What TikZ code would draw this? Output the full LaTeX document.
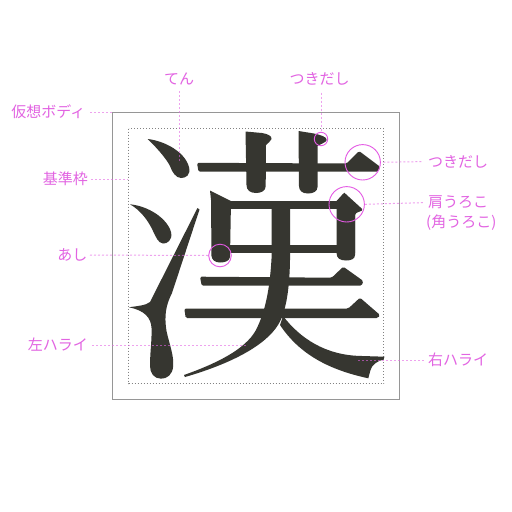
\documentclass[tikz,border=0pt]{standalone}
\usepackage{fontspec}
\newfontfamily\jpfont{Noto Sans CJK JP}
\definecolor{glyph}{RGB}{54,54,48}
\definecolor{pinktext}{RGB}{226,100,226}
\definecolor{pinkring}{RGB}{228,90,228}
\definecolor{leadcol}{RGB}{228,100,228}
\definecolor{boxgray}{RGB}{150,150,150}
\definecolor{dotgray}{RGB}{130,130,130}
\begin{document}
\begin{tikzpicture}[x=1pt,y=-1pt,
  lab/.style={font=\jpfont\fontsize{15}{18}\selectfont, text=pinktext, inner sep=0pt},
  leader/.style={draw=leadcol, opacity=0.6, line width=1pt, dash pattern=on 2pt off 2pt},
  ring/.style={circle, draw=pinkring, line width=0.9pt, inner sep=0pt},
  ink/.style={fill=glyph}]
\useasboundingbox (0,0) rectangle (512,512);
\fill[white] (0,0) rectangle (512,512);
% virtual body and reference frame
\draw[boxgray, line width=1pt] (112.5,112.5) rectangle (399.5,399.5);
\draw[dotgray, line width=0.8pt, dash pattern=on 1pt off 2pt] (128.5,128.5) rectangle (383.5,383.5);
% ---- glyph strokes ----
% dot 1
\fill[ink] (147.7,139) .. controls (165,141) and (185,152) .. (189,167)
  .. controls (191,175) and (186,178) .. (181,178)
  .. controls (176,178) and (172,172) .. (170,166)
  .. controls (166,158) and (155,146) .. (147.7,139) -- cycle;
% dot 2
\fill[ink] (130,204.3) .. controls (148,206) and (167,218) .. (171,232)
  .. controls (173,240) and (167,244) .. (163,243.5)
  .. controls (158,243) and (156,237) .. (153,231)
  .. controls (148,220) and (140,210) .. (130,204.3) -- cycle;
% rising stroke with foot
\fill[ink] (197.5,208) -- (199.5,209.5) -- (172,293)
  .. controls (166,305) and (164,315) .. (166.5,331)
  .. controls (169,343) and (174,355) .. (173.2,366)
  .. controls (172.5,375) and (167,378.7) .. (161,378.7)
  .. controls (154,378.7) and (150,373) .. (150,366)
  .. controls (150,352) and (152,340) .. (151.5,328)
  .. controls (151,318) and (145,310.5) .. (129,307.3)
  .. controls (137,306) and (146,305.5) .. (150,302) -- cycle;
% grass bar with uroko
\fill[ink, rounded corners=1.5pt] (197,162.8) -- (346.7,163.5) -- (359,151) -- (380,166.7) -- (378.5,171.5) -- (198.5,171.7) -- cycle;
% grass left vertical
\fill[ink] (245.5,131.5) -- (262,133) .. controls (268,134) and (272,136) .. (271.5,139)
  .. controls (271,141) and (268,143) .. (266,145) -- (265.7,186)
  .. controls (265.7,191) and (261,193) .. (256,193)
  .. controls (250,193) and (246.5,190) .. (246.5,185) -- cycle;
% grass right vertical
\fill[ink] (298.5,131) -- (314,133.5) .. controls (321,135) and (327,137) .. (326.7,140)
  .. controls (326.5,142) and (321,144) .. (317.5,146) -- (317.5,187)
  .. controls (317.5,191.5) and (313,193.5) .. (308,193.5)
  .. controls (302,193.5) and (299,190.5) .. (299,186) -- cycle;
% box: left vertical (foot)
\fill[ink] (210,190.5) -- (231,201) -- (230,257)
  .. controls (229.5,261) and (225,262.5) .. (220,262.5)
  .. controls (215,262.5) and (212,260) .. (211.5,256) -- (211,200) -- cycle;
% box: top bar and middle bar
\fill[ink] (229,201) rectangle (338,208.5);
\fill[ink] (229,245) rectangle (338,253);
% box: shoulder + right vertical
\fill[ink, rounded corners=1.5pt] (336.7,201) -- (344.3,192.7) -- (363.3,210) -- (355,213.5) -- (355,253);
\fill[ink] (336.7,201) -- (344.3,192.7) -- (355,205) -- (355,255)
  .. controls (355,259) and (351,260.5) .. (346,260.5)
  .. controls (340,260.5) and (336.7,258) .. (336.7,254) -- cycle;
% bar 1
\fill[ink, rounded corners=1.5pt] (200,276.7) -- (331.7,277.7) -- (343.3,266.7) -- (363.3,281) -- (361.7,285.7) -- (201.7,285.7) -- cycle;
% bar 2
\fill[ink, rounded corners=1.5pt] (184.3,308.5) -- (348.3,308.5) -- (360,297.7) -- (380,315) -- (378,318) -- (185.7,318) -- cycle;
% centre vertical + left sweep
\fill[ink] (271.7,201) -- (290,201) -- (290,260)
  .. controls (289.5,290) and (286,312) .. (278,325)
  .. controls (265,346) and (230,364) .. (185,377) -- (184,375)
  .. controls (215,364) and (245,350) .. (256,330)
  .. controls (265,312) and (270,290) .. (271.7,255) -- cycle;
% right sweep
\fill[ink] (283,316) .. controls (300,338) and (325,355.5) .. (362,356) -- (384.5,356.7) -- (383.5,359.5)
  .. controls (377,361) and (372,365) .. (370.5,370) -- (368.3,378.3)
  .. controls (330,370) and (300,355) .. (280,325) -- cycle;
% ---- rings ----
\node[ring, minimum size=13.4pt] (rTop) at (321,139) {};
\node[ring, minimum size=35.4pt] (rRight) at (362.7,162.3) {};
\node[ring, minimum size=35.4pt] (rShoulder) at (346.7,204.3) {};
\node[ring, minimum size=22.6pt] (rFoot) at (220,255.5) {};
% ---- labels ----
\node[lab] (Lten) at (179,79) {てん};
\node[lab] (LtsukiTop) at (319.5,79) {つきだし};
\node[lab, anchor=east] (Lbody) at (85.5,112) {仮想ボディ};
\node[lab, anchor=east] (Lframe) at (88,179) {基準枠};
\node[lab, anchor=east] (Lashi) at (87.5,255) {あし};
\node[lab, anchor=east] (Lhidari) at (88,345) {左ハライ};
\node[lab, anchor=west] (LtsukiRight) at (428,161.5) {つきだし};
\node[lab, anchor=west] (Lkata) at (428,202.5) {肩うろこ};
\node[lab, anchor=west] (Lkado) at (426,223) {(角うろこ)};
\node[lab, anchor=west] (Lmigi) at (428,360) {右ハライ};
% ---- leader ends ----
\coordinate (tenEnd) at (179,163);
\coordinate (bodyEnd) at (112,112);
\coordinate (frameEnd) at (128,179);
\coordinate (hidariEnd) at (246,345);
\coordinate (migiEnd) at (358,360);
% ---- leaders ----
\draw[leader, shorten <=6pt] (Lten.south) -- (tenEnd);
\draw[leader, shorten <=6pt] (321,86.5) -- (rTop.north);
\draw[leader, shorten <=4.5pt] (Lbody.east) -- (bodyEnd);
\draw[leader, shorten <=3pt] (Lframe.east) -- (frameEnd);
\draw[leader, shorten <=2.5pt] (Lashi.east) -- (rFoot.west);
\draw[leader, shorten <=4pt] (Lhidari.east) -- (hidariEnd);
\draw[leader, shorten <=2.5pt, shorten >=5pt] (rRight.east) -- (LtsukiRight.west);
\draw[leader, shorten >=5pt] (rShoulder.east) -- (Lkata.west);
\draw[leader, shorten >=4pt] (migiEnd) -- (Lmigi.west);
\end{tikzpicture}
\end{document}
